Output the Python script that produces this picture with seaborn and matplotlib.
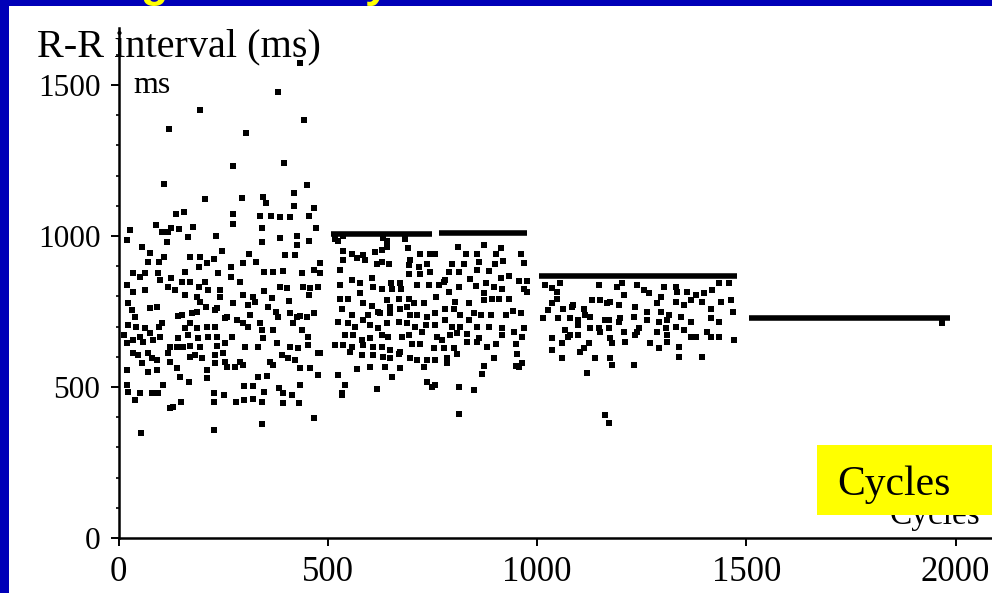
import matplotlib
matplotlib.use("Agg")
import matplotlib.pyplot as plt
import pandas as pd
import seaborn as sns
from matplotlib.patches import Rectangle
from matplotlib.ticker import MultipleLocator

# ---------------- data ----------------
seg1_cycle = [434, 380, 194, 443, 121, 305, 396, 273, 109, 451, 206, 296, 346, 352, 419, 419, 466, 454, 138, 157,
              274, 274, 338, 364, 386, 410, 344, 344, 386, 427, 472, 89, 103, 119, 126, 145, 179, 27, 20, 117,
              167, 234, 427, 421, 454, 55, 76, 109, 97, 70, 171, 195, 248, 227, 212, 193, 311, 269, 298, 329,
              348, 370, 392, 399, 481, 466, 438, 34, 51, 63, 95, 99, 125, 119, 158, 171, 151, 193, 207, 215,
              237, 268, 290, 20, 35, 63, 136, 347, 386, 402, 442, 458, 477, 455, 159, 187, 195, 209, 235, 243,
              243, 274, 298, 322, 326, 366, 358, 408, 410, 418, 426, 23, 32, 39, 75, 91, 143, 151, 175, 187,
              231, 259, 282, 310, 314, 376, 382, 434, 450, 466, 23, 43, 63, 97, 103, 171, 159, 187, 211, 231,
              215, 235, 254, 298, 310, 338, 342, 346, 370, 438, 453, 12, 20, 35, 51, 59, 75, 83, 99, 123,
              139, 155, 171, 143, 167, 191, 195, 235, 254, 271, 302, 334, 378, 410, 430, 453, 477, 35, 47, 55,
              71, 79, 91, 119, 123, 139, 147, 171, 183, 199, 211, 231, 231, 250, 254, 259, 278, 290, 298, 334,
              354, 362, 370, 390, 406, 422, 434, 458, 477, 20, 20, 71, 91, 169, 211, 434, 107, 23, 39, 51,
              79, 95, 123, 131, 149, 227, 227, 252, 280, 301, 321, 342, 301, 321, 348, 384, 394, 414, 431, 392,
              466, 342, 227, 53, 482, 482, 482]
seg1_ms = [1572, 1478, 1417, 1384, 1355, 1342, 1243, 1233, 1172, 1169, 1123, 1125, 1130, 1110, 1141, 1099, 1093, 1067, 1074, 1078,
           1074, 1040, 1067, 1067, 1064, 1064, 1025, 981, 992, 1001, 1028, 1036, 1014, 1014, 1025, 1022, 1031, 1020, 986, 979,
           998, 1000, 970, 937, 985, 963, 945, 929, 913, 913, 931, 929, 950, 923, 910, 899, 941, 899, 910, 915,
           880, 882, 884, 937, 910, 887, 879, 879, 865, 879, 879, 854, 862, 832, 880, 849, 849, 830, 849, 821,
           876, 865, 849, 837, 816, 821, 821, 819, 832, 827, 832, 829, 832, 805, 805, 799, 782, 766, 761, 799,
           821, 777, 805, 797, 782, 794, 766, 785, 744, 711, 733, 777, 755, 733, 761, 766, 735, 738, 746, 749,
           755, 733, 722, 772, 738, 749, 733, 735, 733, 744, 705, 700, 694, 698, 711, 711, 694, 694, 700, 700,
           667, 667, 727, 711, 700, 711, 689, 661, 689, 689, 667, 672, 645, 656, 667, 650, 678, 656, 667, 634,
           634, 634, 636, 661, 672, 661, 634, 636, 645, 667, 634, 634, 645, 634, 628, 639, 612, 612, 606, 578,
           612, 595, 589, 612, 584, 562, 534, 600, 606, 595, 556, 606, 578, 612, 584, 567, 567, 584, 573, 534,
           536, 584, 573, 606, 595, 589, 562, 562, 540, 556, 507, 551, 556, 518, 529, 507, 507, 485, 457, 481,
           481, 481, 429, 435, 449, 479, 449, 474, 451, 457, 459, 451, 503, 503, 485, 496, 479, 474, 446, 446,
           396, 377, 358, 347, 910, 877, 612]

seg2_cycle = [537, 559, 585, 613, 629, 641, 691, 721, 745, 757, 811, 831, 857, 873, 901, 913, 961,
              537, 569, 589, 617, 629, 647, 697, 693, 717, 737, 797, 825, 861, 899, 919, 969,
              529, 559, 606, 652, 673, 695, 721, 745, 777, 789, 813, 839, 857, 885, 913, 933, 957, 977,
              529, 577, 607, 629, 653, 675, 713, 741, 765, 781, 813, 853, 877, 897, 917, 969, 977,
              529, 549, 577, 585, 605, 621, 641, 649, 669, 693, 705, 729, 759, 789, 805, 837, 873, 873, 893, 909, 933,
              533, 557, 597, 625, 649, 673, 689, 697, 713, 737, 757, 781, 801, 817, 849, 865, 889, 925, 943, 961,
              525, 549, 565, 585, 601, 621, 641, 669, 689, 709, 735, 757, 781, 797, 817, 837, 857, 885, 917, 945, 969,
              517, 541, 561, 581, 601, 629, 645, 677, 693, 725, 761, 773, 793, 809, 833, 861, 917, 965,
              537, 557, 585, 609, 629, 649, 673, 701, 721, 753, 777, 801, 833, 857, 881, 901, 949,
              553, 581, 609, 633, 649, 669, 697, 713, 737, 757, 785, 809, 897, 953, 965,
              569, 601, 637, 653, 673, 729, 785, 873, 869, 957,
              525, 541, 533, 617, 737, 757, 813, 849,
              814, 535, 748, 950, 517, 525, 633, 641, 685, 537]
seg2_ms = [951, 942, 937, 946, 953, 964, 959, 939, 939, 939, 964, 942, 942, 970, 942, 961, 942,
           920, 928, 920, 909, 915, 907, 920, 904, 898, 909, 909, 909, 915, 909, 917, 911,
           887, 856, 862, 846, 846, 874, 874, 882, 849, 882, 882, 857, 887, 884, 860, 867, 851, 851,
           837, 843, 830, 826, 823, 823, 837, 837, 837, 854, 832, 834, 843, 830, 826, 826, 815,
           791, 790, 810, 777, 768, 749, 788, 766, 793, 790, 777, 777, 799, 815, 782, 777, 812, 788, 790, 792, 793,
           760, 738, 738, 744, 744, 760, 766, 738, 738, 733, 744, 760, 760, 738, 744, 738, 738, 738, 751, 744,
           716, 711, 700, 722, 705, 694, 711, 716, 711, 700, 705, 705, 722, 700, 700, 722, 700, 700, 694, 683, 694,
           639, 672, 672, 655, 661, 672, 666, 666, 672, 683, 666, 655, 672, 680, 677, 661, 672, 666,
           639, 633, 639, 633, 633, 622, 617, 644, 644, 628, 628, 628, 650, 650, 633, 644, 644,
           617, 606, 606, 600, 595, 611, 595, 589, 589, 589, 595, 611, 595, 611, 578,
           561, 565, 567, 534, 564, 567, 578, 569, 542, 567,
           539, 506, 481, 495, 517, 506, 501, 490,
           411, 474, 500, 570, 990, 985, 995, 985, 990, 1000]

seg3_cycle = [1019, 1035, 1047, 1055, 1147, 1191, 1203, 1207, 1239, 1255, 1267, 1303, 1295, 1331, 1335, 1359, 1379, 1399, 1419, 1435, 1459,
              1047, 1035, 1027, 1063, 1083, 1087, 1111, 1131, 1151, 1167, 1175, 1195, 1235, 1287, 1295, 1331, 1351, 1367, 1395, 1415, 1439, 1463, 1467,
              1015, 1051, 1079, 1099, 1099, 1115, 1127, 1163, 1171, 1195, 1199, 1231, 1263, 1263, 1291, 1311, 1315, 1343, 1367, 1415, 1435,
              1067, 1079, 1099, 1127, 1147, 1151, 1171, 1207, 1239, 1243, 1287, 1307, 1311, 1331, 1351, 1367, 1379, 1407, 1415, 1435, 1471,
              1035, 1059, 1075, 1123, 1175, 1179, 1211, 1235, 1271, 1291, 1311, 1339, 1395,
              1035, 1103, 1111, 1139, 1175, 1179, 1231, 1339, 1059,
              1119, 1163, 1171]
seg3_ms = [838, 827, 816, 845, 838, 832, 845, 805, 838, 821, 810, 832, 799, 832, 816, 816, 805, 810, 821, 843, 843,
           793, 777, 755, 760, 766, 771, 760, 788, 788, 777, 782, 771, 766, 777, 749, 782, 771, 788, 782, 760, 782, 788, 749,
           727, 727, 727, 722, 705, 738, 733, 722, 722, 716, 727, 733, 749, 722, 716, 722, 738, 733, 716, 727, 716,
           689, 672, 672, 694, 694, 683, 694, 683, 683, 694, 683, 694, 672, 700, 689, 667, 667, 683, 667, 667, 656,
           661, 645, 667, 645, 661, 645, 650, 672, 645, 628, 650, 633, 600,
           622, 617, 628, 595, 595, 573, 573, 600, 595,
           545, 407, 380]

seg4_cycle = [1967]
seg4_ms = [712]

# flat runs of identical beats (drawn as heavy horizontal strokes)
plateau_start = [507, 766, 1005, 1507]
plateau_end = [749, 976, 1477, 1986]
plateau_ms = [1007, 1009, 868, 728]

x_ticks = [0, 500, 1000, 1500, 2000]
y_ticks = [0, 500, 1000, 1500]
y_title = "R-R interval (ms)"
unit_label = "ms"
x_label = "Cycles"

# ---------------- figure ----------------
sns.set_style("ticks")
plt.rcParams["font.family"] = ["Liberation Serif", "DejaVu Serif"]

W, H = 992, 593
fig = plt.figure(figsize=(W / 100, H / 100), dpi=100)
fig.patch.set_facecolor("#0000B8")
fig.patches.append(Rectangle((9 / W, 0), 1 - 9 / W, 1 - 6 / H, transform=fig.transFigure,
                             facecolor="white", edgecolor="none", zorder=-2))

ax = fig.add_axes([118.5 / W, 55 / H, 873.5 / W, 510 / H])
ax.set_facecolor("none")

df = pd.DataFrame({
    "cycle": seg1_cycle + seg2_cycle + seg3_cycle + seg4_cycle,
    "ms": seg1_ms + seg2_ms + seg3_ms + seg4_ms,
})
sns.scatterplot(data=df, x="cycle", y="ms", marker="s", s=21, color="black",
                linewidth=0, legend=False, ax=ax)

for s, e, v in zip(plateau_start, plateau_end, plateau_ms):
    ax.plot([s, e], [v, v], color="black", lw=4.0, solid_capstyle="butt")

ax.set_xlim(0, 2087)
ax.set_ylim(0, 1689)
ax.set_xlabel("")
ax.set_ylabel("")
for side in ["top", "right"]:
    ax.spines[side].set_visible(False)
for side in ["left", "bottom"]:
    ax.spines[side].set_linewidth(1.8)
    ax.spines[side].set_color("black")

ax.set_xticks(x_ticks)
ax.set_yticks(y_ticks)
ax.set_xticklabels([str(t) for t in x_ticks])
ax.set_yticklabels([str(t) for t in y_ticks])
ax.yaxis.set_minor_locator(MultipleLocator(100))
ax.tick_params(axis="both", which="major", direction="out", length=6, width=1.4, colors="black")
ax.tick_params(axis="x", which="major", labelsize=25, pad=7)
ax.tick_params(axis="y", which="major", labelsize=22.5, pad=7)
ax.tick_params(axis="y", which="minor", direction="out", length=2.5, width=1.4)

# texts
fig.text(37 / W, 1 - 56 / H, y_title, fontsize=29, va="baseline", ha="left", color="black")
fig.text(133 / W, 1 - 93 / H, unit_label, fontsize=23, va="baseline", ha="left", color="black")
fig.text(980 / W, 1 - 524 / H, x_label, fontsize=24, va="baseline", ha="right", color="black", zorder=4)
fig.patches.append(Rectangle((817 / W, 1 - 515 / H), (W - 817) / W, 70 / H, transform=fig.transFigure,
                             facecolor="#FFFF00", edgecolor="none", zorder=5))
fig.text(837 / W, 1 - 495 / H, x_label, fontsize=30, va="baseline", ha="left", color="black", zorder=6)

# descenders of the slide title cut off at the top edge
fig.text(140 / W, 1 + 3 / H, "g", fontsize=32, color="#FFFF00", fontfamily="Liberation Sans",
         fontweight="bold", va="baseline", ha="left")
fig.text(365 / W, 1 + 3 / H, "y", fontsize=32, color="#FFFF00", fontfamily="Liberation Sans",
         fontweight="bold", va="baseline", ha="left")

fig.savefig("out.png", dpi=100, facecolor=fig.get_facecolor())
